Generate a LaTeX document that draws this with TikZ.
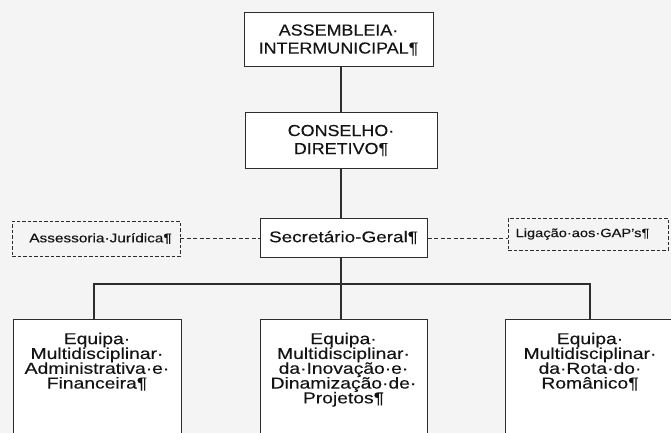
\documentclass[tikz,border=0pt]{standalone}
\usepackage{fontspec}
\setmainfont{Liberation Sans}
\newfontfamily\fa[FakeStretch=1.12,FakeBold=0.25]{Liberation Sans}
\newfontfamily\fb[FakeStretch=1.22,FakeBold=0.25]{Liberation Sans}
\definecolor{bg}{RGB}{244,244,244}
\definecolor{ink}{RGB}{45,45,45}
\definecolor{txt}{RGB}{20,20,20}
\begin{document}
\begin{tikzpicture}[x=1pt,y=-1pt,
  solidbox/.style={draw=ink, line width=1pt, fill=white, inner sep=0pt, text=txt},
  dashbox/.style={draw=ink, line width=0.9pt, dash pattern=on 3.5pt off 2pt, inner sep=0pt, text=txt},
  teamtext/.style={inner sep=0pt, align=center, text=txt, font=\fb\fontsize{15.8}{14.8}\selectfont},
  link/.style={draw=ink, line width=1.5pt},
  dlink/.style={draw=ink, line width=1pt, dash pattern=on 4pt off 2.5pt}]
\fill[bg] (0,0) rectangle (671,433);
\useasboundingbox (0,0) rectangle (671,433);
\begin{scope}
\clip (0,0) rectangle (671,433);
\coordinate (spine) at (341,0);
\coordinate (busL) at (94,284);
\coordinate (busR) at (590,284);
% top boxes
\node[solidbox, minimum width=189pt, minimum height=54pt, align=center,
      font=\fa\fontsize{16}{18}\selectfont] (asm) at (338.5,40) {ASSEMBLEIA·\\INTERMUNICIPAL¶};
\node[solidbox, minimum width=192pt, minimum height=55pt, align=center,
      font=\fa\fontsize{16}{18}\selectfont] (cons) at (341,140.5) {CONSELHO·\\DIRETIVO¶};
\node[solidbox, minimum width=167pt, minimum height=39pt,
      font=\fb\fontsize{15.5}{18}\selectfont] (sec) at (343.5,237.5) {Secretário-Geral¶};
\node[dashbox, minimum width=168pt, minimum height=35pt,
      font=\fb\fontsize{12.6}{15}\selectfont] (ass) at (96,238.5) {\hspace*{9pt}Assessoria·Jurídica¶};
\node[dashbox, minimum width=160pt, minimum height=32pt,
      font=\fb\fontsize{12}{14}\selectfont] (lig) at (588,234) {Ligação·aos·GAP’s¶\hspace*{11pt}};
% team boxes
\node[solidbox, minimum width=168pt, minimum height=130pt, anchor=north] (t1) at (97,319) {};
\node[solidbox, minimum width=167pt, minimum height=130pt, anchor=north] (t2) at (343.5,319) {};
\node[solidbox, minimum width=170pt, minimum height=130pt, anchor=north] (t3) at (590,319) {};
\node[teamtext, anchor=north] (t1x) at ([yshift=-13.5pt]t1.north) {Equipa·\\Multidisciplinar·\\Administrativa·e·\\Financeira¶};
\node[teamtext, anchor=north] (t2x) at ([yshift=-13.5pt]t2.north) {Equipa·\\Multidisciplinar·\\da·Inovação·e·\\Dinamização·de·\\Projetos¶};
\node[teamtext, anchor=north] (t3x) at ([yshift=-13.5pt]t3.north) {Equipa·\\Multidisciplinar·\\da·Rota·do·\\Românico¶};
% connectors
\draw[link] (asm.south -| spine) -- (cons.north -| spine);
\draw[link] (cons.south -| spine) -- (sec.north -| spine);
\draw[link] (sec.south -| spine) -- (t2.north -| spine);
\draw[link] (busL |- t1.north) -- (busL) -- (busR) -- (busR |- t3.north);
\draw[dlink] (ass.east) -- (ass.east -| sec.west);
\draw[dlink] (sec.east |- ass.east) -- (lig.west |- ass.east);
\end{scope}
\end{tikzpicture}
\end{document}
